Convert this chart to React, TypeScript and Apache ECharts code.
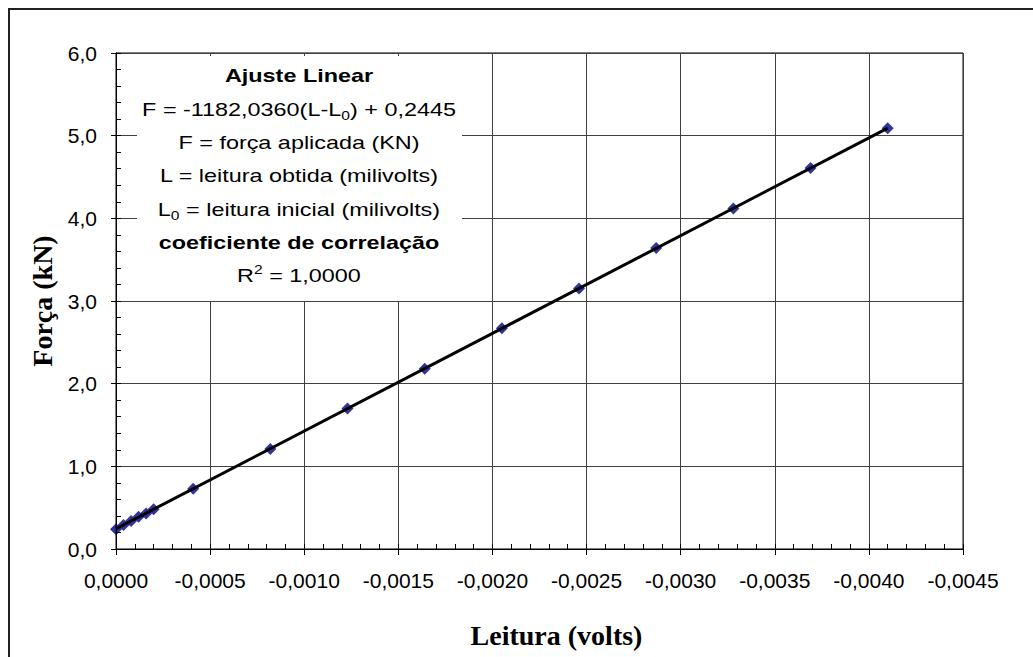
import React, { useEffect, useRef } from "react";
import * as echarts from "echarts";

// Calibration readings: voltage reading (volts) and applied force (kN)
const leituraVolts = [
  0, -0.00004, -0.00008, -0.00012, -0.00016, -0.0002, -0.00041, -0.00082,
  -0.00123, -0.00164, -0.00205, -0.00246, -0.00287, -0.00328, -0.00369, -0.0041,
];
const forcaKN = [
  0.24, 0.29, 0.34, 0.39, 0.43, 0.48, 0.73, 1.21, 1.7, 2.18, 2.67, 3.15, 3.64,
  4.12, 4.61, 5.09,
];

// Linear fit end points: F = -1182,0360(L-L0) + 0,2445
const ajusteLeitura = [0, -0.0041];
const ajusteForca = [0.2445, 5.0909];

// Axis scale
const xMin = -0.0045;
const xMax = 0;
const xStep = 0.0005;
const yMin = 0;
const yMax = 6;
const yStep = 1;

// Text box lines
const caixaLinhas = [
  { text: "Ajuste Linear", bold: true },
  { text: "F = -1182,0360(L-L{sub|0}) + 0,2445", bold: false },
  { text: "F = força aplicada (KN)", bold: false },
  { text: "L = leitura obtida (milivolts)", bold: false },
  { text: "L{sub|0} = leitura inicial (milivolts)", bold: false },
  { text: "coeficiente de correlação", bold: true },
  { text: "R{sup|2} = 1,0000", bold: false },
];

const SANS = "'Liberation Sans', Arial, sans-serif";
const SERIF = "'Liberation Serif', 'Times New Roman', serif";

const fmtComma = (v: number, d: number) => {
  const s = (Math.abs(v) < 1e-12 ? 0 : v).toFixed(d);
  return s.replace(".", ",");
};

export default function App() {
  const ref = useRef<HTMLDivElement>(null);

  useEffect(() => {
    if (!ref.current) return;
    const chart = echarts.init(ref.current, undefined, { renderer: "svg" });

    const pontos = leituraVolts.map((x, i) => [x, forcaKN[i]]);
    const ajuste = ajusteLeitura.map((x, i) => [x, ajusteForca[i]]);

    const boxCx = 299;
    const row0 = 76;
    const rowGap = 33.3;

    const textos = caixaLinhas.map((l, i) => ({
      type: "text",
      x: boxCx,
      y: row0 + i * rowGap,
      scaleX: 1.3,
      z: 5,
      silent: true,
      style: {
        text: l.text,
        fontFamily: SANS,
        fontSize: 18,
        fontWeight: l.bold ? "bold" : "normal",
        fill: "#000",
        align: "center",
        verticalAlign: "middle",
        lineHeight: 24,
        rich: {
          sub: { fontSize: 12, lineHeight: 12, verticalAlign: "bottom", fontFamily: SANS },
          sup: { fontSize: 12, lineHeight: 12, verticalAlign: "top", fontFamily: SANS },
        },
      },
    }));

    const option: any = {
      animation: false,
      backgroundColor: "#fff",
      grid: {
        left: 116,
        right: 70,
        top: 53,
        bottom: 108,
        show: true,
        borderColor: "#000",
        borderWidth: 1,
        backgroundColor: "transparent",
      },
      xAxis: [
        {
          type: "value",
          min: xMin,
          max: xMax,
          interval: xStep,
          inverse: true,
          position: "bottom",
          axisLine: { onZero: false, lineStyle: { color: "#000", width: 1 } },
          axisTick: { inside: true, length: 5, lineStyle: { color: "#000" } },
          minorTick: { show: true, splitNumber: 5, length: 5, lineStyle: { color: "#000" } },
          splitLine: { show: true, lineStyle: { color: "#404040", width: 1 } },
          axisLabel: {
            formatter: (v: number) => fmtComma(v, 4),
            fontFamily: SANS,
            fontSize: 21,
            color: "#000",
            margin: 21,
          },
          name: "Leitura (volts)",
          nameLocation: "middle",
          nameGap: 72,
          nameTextStyle: {
            fontFamily: SERIF,
            fontWeight: "bold",
            fontSize: 28,
            color: "#000",
            padding: [0, 0, 0, 34],
          },
        },
        {
          type: "value",
          min: xMin,
          max: xMax,
          interval: xStep,
          inverse: true,
          position: "bottom",
          z: 6,
          axisLine: { onZero: false, lineStyle: { color: "#000", width: 1 } },
          axisTick: { inside: false, length: 6, lineStyle: { color: "#000" } },
          axisLabel: { show: false },
          splitLine: { show: false },
        },
      ],
      yAxis: [
        {
          type: "value",
          min: yMin,
          max: yMax,
          interval: yStep,
          position: "left",
          axisLine: { onZero: false, lineStyle: { color: "#000", width: 1 } },
          axisTick: { inside: true, length: 5, lineStyle: { color: "#000" } },
          minorTick: { show: true, splitNumber: 5, length: 5, lineStyle: { color: "#000" } },
          splitLine: { show: true, lineStyle: { color: "#404040", width: 1 } },
          axisLabel: {
            formatter: (v: number) => fmtComma(v, 1),
            fontFamily: SANS,
            fontSize: 21,
            color: "#000",
            margin: 19,
          },
          name: "Força (kN)",
          nameLocation: "middle",
          nameGap: 59,
          nameTextStyle: {
            fontFamily: SERIF,
            fontWeight: "bold",
            fontSize: 28,
            color: "#000",
          },
        },
        {
          type: "value",
          min: yMin,
          max: yMax,
          interval: yStep,
          position: "left",
          z: 6,
          axisLine: { onZero: false, lineStyle: { color: "#000", width: 1 } },
          axisTick: { inside: false, length: 5, lineStyle: { color: "#000" } },
          axisLabel: { show: false },
          splitLine: { show: false },
        },
      ],
      graphic: [
        {
          type: "rect",
          silent: true,
          z: 0,
          shape: { x: 9, y: 9, width: 1200, height: 1200 },
          style: { fill: "none", stroke: "#222", lineWidth: 2 },
        },
        {
          type: "rect",
          silent: true,
          z: 1,
          shape: { x: 137, y: 56, width: 325, height: 245 },
          style: { fill: "#fff", stroke: "none" },
        },
        ...textos,
      ],
      series: [
        {
          type: "scatter",
          name: "Leituras",
          xAxisIndex: 0,
          yAxisIndex: 0,
          data: pontos,
          symbol: "diamond",
          symbolSize: 12,
          itemStyle: { color: "#000080" },
          z: 3,
        },
        {
          type: "line",
          name: "Ajuste Linear",
          xAxisIndex: 0,
          yAxisIndex: 0,
          data: ajuste,
          showSymbol: false,
          symbol: "none",
          lineStyle: { color: "#000", width: 3 },
          z: 4,
        },
      ],
    };

    chart.setOption(option);
    return () => chart.dispose();
  }, []);

  return (
    <div
      ref={ref}
      style={{ position: "absolute", left: 0, top: 0, width: 1033, height: 657 }}
    />
  );
}
